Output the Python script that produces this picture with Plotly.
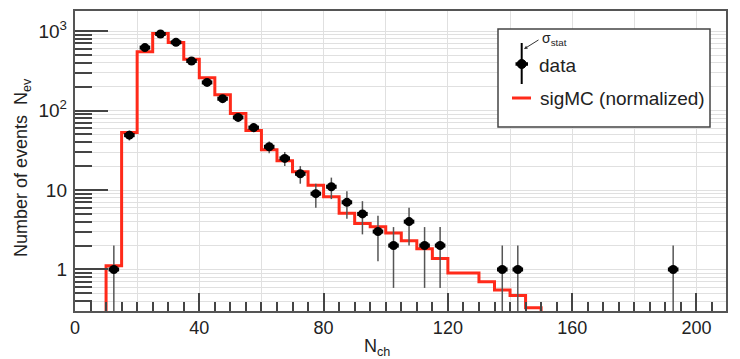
import numpy as np
import plotly.graph_objects as go

# ---------------- data ----------------
mc_edges = [10, 15, 20, 25, 30, 35, 40, 45, 50, 55, 60, 65, 70, 75, 80, 85, 90, 95,
            100, 105, 110, 115, 120, 125, 130, 135, 140, 145, 150]
mc_values = [1.11, 53, 550, 930, 720, 443, 259, 158, 92, 56, 32, 23.3, 17, 11.5, 8.2,
             5.1, 3.8, 3.45, 2.88, 2.3, 1.82, 1.37, 0.9, 0.9, 0.7, 0.55, 0.47, 0.33]

data_x = [12.5, 17.5, 22.5, 27.5, 32.5, 37.5, 42.5, 47.5, 52.5, 57.5, 62.5, 67.5, 72.5,
          77.5, 82.5, 87.5, 92.5, 97.5, 102.5, 107.5, 112.5, 117.5, 137.5, 142.5, 192.5]
data_y = [1, 49, 620, 920, 722, 420, 226, 141, 82, 61, 35, 25, 16,
          9, 11, 7, 5, 3, 2, 4, 2, 2, 1, 1, 1]

x_tick_vals = [0, 20, 40, 60, 80, 100, 120, 140, 160, 180, 200]
x_tick_text = ["0", "", "40", "", "80", "", "120", "", "160", "", "200"]
y_decades = [1, 10, 100, 1000]
y_decade_text = ["1", "10", "10<sup>2</sup>", "10<sup>3</sup>"]

X_RANGE = [0, 209.5]
Y_MIN, Y_MAX = 0.3, 1790

# ---------------- layout geometry (window pixels) ----------------
OFF = 8                      # default page body margin
WIN_W, WIN_H = 740, 359
W, H = WIN_W - OFF, WIN_H - OFF
PL, PR, PT, PB = 75, 726, 11, 311   # plot area in window pixels
L, T = PL - OFF, PT - OFF
R, B = (OFF + W) - PR, (OFF + H) - PB
PW, PH = PR - PL, PB - PT


def px(xp):
    return (xp - PL) / PW


def py(yp):
    return (PB - yp) / PH


FONT = "Liberation Sans, Arial, Helvetica, sans-serif"
TXT = "#222222"
GRID = "#e0e0e0"

# ---------------- traces ----------------
step_x = [mc_edges[0]] + mc_edges[:-1] + [mc_edges[-1], mc_edges[-1]]
step_y = [0.05] + mc_values + [mc_values[-1], 0.05]

fig = go.Figure()
fig.add_trace(go.Scatter(
    x=step_x, y=step_y, mode="lines", line=dict(color="#ff2a1a", width=3, shape="hv"),
    showlegend=False, hoverinfo="skip", yaxis="y"))

err = np.sqrt(np.array(data_y, dtype=float))
err_minus = np.minimum(err, np.array(data_y, dtype=float) - 1e-3)
fig.add_trace(go.Scatter(
    x=data_x, y=data_y, mode="markers", yaxis="y2",
    marker=dict(symbol="circle", size=9, color="black"),
    error_y=dict(type="data", array=err, arrayminus=err_minus, symmetric=False,
                 color="#555555", thickness=1.5, width=0),
    error_x=dict(type="constant", value=1.7, color="black", thickness=4, width=0),
    showlegend=False))

minor_vals = []
for dec in [0.1, 1, 10, 100, 1000]:
    for m in range(1, 10):
        v = dec * m
        if Y_MIN <= v <= Y_MAX:
            minor_vals.append(round(v, 6))

fig.update_layout(
    width=W, height=H,
    margin=dict(l=L, r=R, t=T, b=B, autoexpand=False),
    paper_bgcolor="white", plot_bgcolor="white",
    font=dict(family=FONT, size=18, color=TXT),
    showlegend=False,
    xaxis=dict(
        range=X_RANGE, tickmode="array", tickvals=x_tick_vals, ticktext=x_tick_text,
        ticks="inside", ticklen=18, tickwidth=1.5, tickcolor="#444",
        showgrid=True, gridcolor=GRID, gridwidth=1, zeroline=False,
        showline=True, linecolor="#555", linewidth=1.5, mirror=True,
        minor=dict(tickmode="array", tickvals=list(range(0, 210, 5)), ticks="inside",
                   ticklen=9, tickwidth=1.5, tickcolor="#444", showgrid=False),
        tickfont=dict(size=18, color=TXT), automargin=False,
    ),
    yaxis=dict(
        type="log", range=[np.log10(Y_MIN), np.log10(Y_MAX)],
        tickmode="array", tickvals=minor_vals, ticktext=[""] * len(minor_vals),
        ticks="inside", ticklen=17, tickwidth=1.5, tickcolor="#444",
        showgrid=True, gridcolor=GRID, gridwidth=1, zeroline=False,
        showline=True, linecolor="#555", linewidth=1.5, mirror=True, automargin=False,
    ),
    yaxis2=dict(
        type="log", range=[np.log10(Y_MIN), np.log10(Y_MAX)], overlaying="y", side="left",
        tickmode="array", tickvals=y_decades, ticktext=y_decade_text,
        ticks="inside", ticklen=33, tickwidth=1.5, tickcolor="#444",
        showgrid=False, zeroline=False, showline=False, ticklabelstandoff=7,
        tickfont=dict(size=19, color=TXT), automargin=False,
    ),
)

# ---------------- axis titles ----------------
fig.add_annotation(xref="paper", yref="paper", x=px(377), y=py(347),
                   text="N<sub>ch</sub>", showarrow=False, font=dict(size=18, color=TXT),
                   xanchor="center", yanchor="middle")
fig.add_annotation(xref="paper", yref="paper", x=px(22), y=py(168),
                   text="Number of events  N<sub>ev</sub>", showarrow=False, textangle=-90,
                   font=dict(size=18, color=TXT), xanchor="center", yanchor="middle")

# ---------------- legend (drawn) ----------------
fig.add_shape(type="rect", xref="paper", yref="paper",
              x0=px(498), x1=px(710), y0=py(127), y1=py(29),
              line=dict(color="#444", width=1.5), fillcolor="white", layer="above")
fig.add_shape(type="line", xref="paper", yref="paper",
              x0=px(521.7), x1=px(521.7), y0=py(84), y1=py(43),
              line=dict(color="black", width=2), layer="above")
fig.add_shape(type="line", xref="paper", yref="paper",
              x0=px(515.5), x1=px(528), y0=py(64), y1=py(64),
              line=dict(color="black", width=3.5), layer="above")
fig.add_shape(type="circle", xref="paper", yref="paper",
              x0=px(517.2), x1=px(526.2), y0=py(68.5), y1=py(59.5),
              line=dict(color="black", width=1), fillcolor="black", layer="above")
fig.add_shape(type="line", xref="paper", yref="paper",
              x0=px(512), x1=px(531), y0=py(98), y1=py(98),
              line=dict(color="#ff2a1a", width=3), layer="above")
fig.add_annotation(xref="paper", yref="paper", x=px(537), y=py(65), text="data",
                   showarrow=False, xanchor="left", yanchor="middle",
                   font=dict(size=19, color=TXT))
fig.add_annotation(xref="paper", yref="paper", x=px(538), y=py(98),
                   text="sigMC (normalized)", showarrow=False, xanchor="left",
                   yanchor="middle", font=dict(size=19, color=TXT))
fig.add_annotation(xref="paper", yref="paper", x=px(524), y=py(49),
                   ax=16, ay=-10, axref="pixel", ayref="pixel",
                   text="", showarrow=True, arrowhead=2, arrowsize=0.7, arrowwidth=1,
                   arrowcolor="#333")
fig.add_annotation(xref="paper", yref="paper", x=px(540), y=py(39),
                   text="σ<sub>stat</sub>", showarrow=False, xanchor="left",
                   yanchor="middle", font=dict(size=14, color=TXT))

fig.write_html("out.html")
